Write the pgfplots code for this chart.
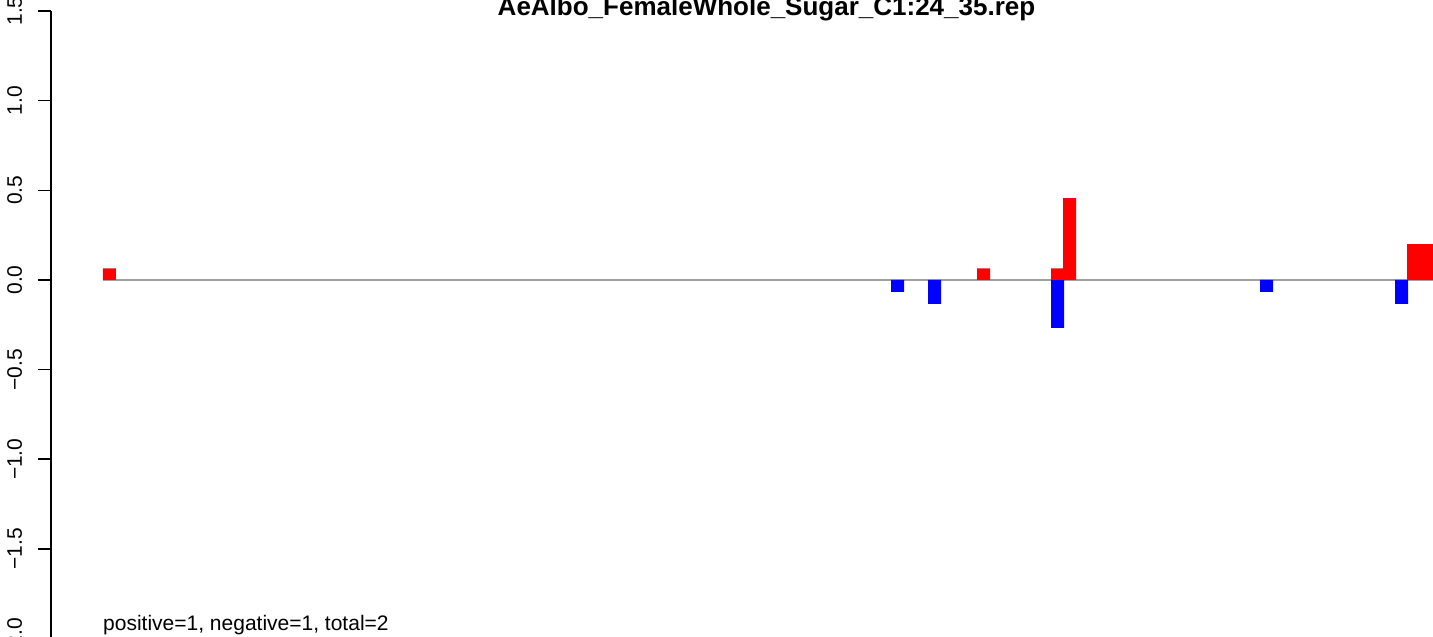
\documentclass[border=0pt]{standalone}
\usepackage{fontspec}
\setmainfont{Liberation Sans}
\usepackage{pgfplots}
\pgfplotsset{compat=1.18}
\definecolor{basegray}{RGB}{160,160,160}
\definecolor{rred}{RGB}{255,0,0}
\definecolor{rblue}{RGB}{0,0,255}
\begin{document}
\begin{tikzpicture}
\begin{axis}[
  name=ax,
  scale only axis,
  width=1382pt, height=627.55pt,
  xmin=51, xmax=1433,
  ymin=-2, ymax=1.5,
  axis lines=left,
  axis line style={-},
  x axis line style={draw=none},
  xtick=\empty,
  y axis line style={line width=1.5pt, black},
  ytick={-2,-1.5,-1,-0.5,0,0.5,1,1.5},
  yticklabels={−2.0,−1.5,−1.0,−0.5,0.0,0.5,1.0,1.5},
  ytick pos=left,
  tick align=outside,
  major tick length=13pt,
  tick style={draw=black, line width=1.5pt},
  yticklabel style={xshift=-16pt, rotate=90, anchor=base, inner sep=0pt, font=\fontsize{21}{25}\selectfont},
  clip=false,
]
\addplot[basegray, line width=2pt] coordinates {(103,0) (1440,0)};
\addplot[ybar, bar width=13, bar shift=0pt, fill=rblue, draw=none] coordinates {
  (897.5,-0.0667) (934.5,-0.1333) (1057.5,-0.2667) (1266.5,-0.0667) (1401.5,-0.1333)};
\addplot[ybar, bar width=13, bar shift=0pt, fill=rred, draw=none] coordinates {
  (109.5,0.065) (983.5,0.065) (1057.5,0.065) (1069.5,0.456) (1413.5,0.2) (1426.5,0.2)};
\node[anchor=base, yshift=-4.5pt, font=\bfseries\fontsize{26}{30}\selectfont] at (axis cs:766.5,1.5) {AeAlbo\_FemaleWhole\_Sugar\_C1:24\_35.rep};
\node[anchor=base west, inner sep=0pt, font=\fontsize{21}{25}\selectfont] at (axis cs:103,-1.9576) {positive=1, negative=1, total=2};
\end{axis}
\pgfresetboundingbox
\path[use as bounding box] ([xshift=-51pt, yshift=1.7pt]ax.south west) rectangle ([yshift=11pt]ax.north east);
\end{tikzpicture}
\end{document}
